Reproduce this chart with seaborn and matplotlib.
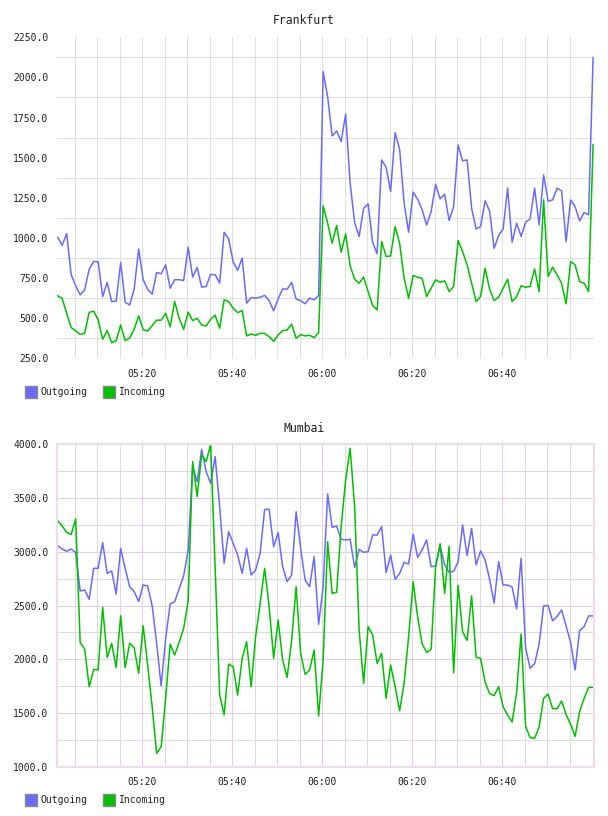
import matplotlib
matplotlib.use("Agg")
import numpy as np
import pandas as pd
import matplotlib.pyplot as plt
import matplotlib.dates as mdates
from matplotlib.lines import Line2D
from matplotlib.ticker import FixedLocator, FixedFormatter
import seaborn as sns

# ---------------- data ----------------
start_time = "2024-01-01 05:01:12"
n_points = 120

frankfurt_outgoing = [
    1005, 954, 1027, 771, 702, 646, 677, 806, 854, 852,
    635, 723, 604, 606, 848, 600, 583, 681, 931, 740,
    681, 650, 785, 777, 833, 687, 740, 740, 735, 942,
    756, 817, 694, 698, 773, 771, 719, 1035, 994, 850,
    798, 875, 594, 629, 625, 631, 642, 610, 546, 621,
    683, 681, 723, 619, 610, 590, 625, 615, 642, 2036,
    1880, 1635, 1666, 1600, 1770, 1341, 1096, 1009, 1185, 1212,
    973, 901, 1486, 1440, 1289, 1656, 1552, 1216, 1036, 1285,
    1241, 1175, 1081, 1164, 1334, 1243, 1272, 1108, 1195, 1579,
    1480, 1486, 1185, 1056, 1071, 1231, 1168, 936, 1015, 1056,
    1310, 973, 1092, 1009, 1098, 1119, 1310, 1081, 1393, 1229,
    1237, 1310, 1293, 977, 1237, 1195, 1106, 1158, 1144, 2125,
]
frankfurt_incoming = [
    640, 623, 531, 442, 421, 400, 406, 537, 544, 490,
    369, 423, 348, 360, 458, 360, 377, 431, 515, 429,
    421, 454, 488, 488, 531, 446, 604, 500, 431, 538,
    485, 500, 458, 452, 494, 519, 438, 615, 604, 562,
    535, 548, 390, 402, 394, 406, 406, 385, 356, 396,
    423, 427, 463, 375, 398, 390, 394, 379, 410, 1200,
    1092, 967, 1077, 911, 1025, 828, 743, 718, 756, 666,
    579, 552, 978, 884, 888, 1071, 967, 749, 625, 766,
    756, 749, 635, 687, 739, 724, 733, 666, 698, 984,
    915, 832, 718, 604, 635, 811, 681, 610, 631, 687,
    743, 604, 635, 702, 693, 698, 807, 666, 1237, 760,
    818, 770, 718, 590, 853, 832, 728, 718, 666, 1583,
]
mumbai_outgoing = [
    3057, 3026, 3004, 3026, 2992, 2635, 2644, 2557, 2846, 2846,
    3085, 2799, 2821, 2607, 3032, 2846, 2675, 2629, 2536, 2691,
    2681, 2498, 2148, 1751, 2194, 2514, 2536, 2654, 2775, 3016,
    3792, 3653, 3953, 3746, 3637, 3885, 3420, 2892, 3187, 3079,
    2970, 2799, 3032, 2784, 2830, 2986, 3395, 3395, 3048, 3178,
    2861, 2722, 2784, 3373, 3032, 2737, 2675, 2954, 2325, 2675,
    3538, 3227, 3240, 3116, 3110, 3116, 2855, 3023, 2995, 3001,
    3156, 3156, 3234, 2806, 2970, 2744, 2799, 2902, 2886, 3162,
    2948, 3017, 3110, 2861, 2868, 3055, 2880, 2809, 2818, 2905,
    3249, 2964, 3218, 2877, 3008, 2923, 2745, 2523, 2908, 2691,
    2691, 2672, 2469, 2939, 2106, 1915, 1958, 2140, 2495, 2501,
    2357, 2399, 2458, 2310, 2155, 1900, 2266, 2303, 2403, 2403,
]
mumbai_incoming = [
    3290, 3240, 3181, 3162, 3305, 2154, 2095, 1744, 1906, 1900,
    2483, 2017, 2148, 1924, 2405, 1921, 2148, 2107, 1869, 2312,
    1946, 1558, 1124, 1186, 1636, 2142, 2039, 2157, 2287, 2542,
    3839, 3513, 3901, 3839, 4000, 2850, 1667, 1481, 1955, 1931,
    1667, 2008, 2163, 1745, 2210, 2520, 2846, 2489, 2008, 2365,
    1993, 1831, 2179, 2675, 2055, 1859, 1900, 2086, 1471, 1993,
    3094, 2613, 2623, 3234, 3668, 3963, 3420, 2272, 1776, 2303,
    2225, 1962, 2055, 1636, 1946, 1745, 1521, 1776, 2210, 2722,
    2396, 2142, 2064, 2092, 2861, 3075, 2613, 3050, 1873, 2688,
    2256, 2175, 2588, 2018, 2008, 1787, 1680, 1661, 1745, 1558,
    1481, 1416, 1690, 2235, 1375, 1271, 1264, 1369, 1636, 1676,
    1540, 1540, 1611, 1485, 1395, 1282, 1512, 1635, 1738, 1738,
]

series_names = ["Outgoing", "Incoming"]
cities = ["Frankfurt", "Mumbai"]
frankfurt_yticks = [250, 500, 750, 1000, 1250, 1500, 1750, 2000, 2250]
mumbai_yticks = [1000, 1500, 2000, 2500, 3000, 3500, 4000]
xtick_labels = ["05:20", "05:40", "06:00", "06:20", "06:40"]

# ---------------- style ----------------
sns.set_theme(style="white")
plt.rcParams["font.family"] = ["DejaVu Sans Mono", "DejaVu Sans"]
palette = {"Outgoing": "#6a6aff", "Incoming": "#00c000"}
txt_color = "#222222"
grey_grid = "#e0e0e0"
purple_grid = "#e6cce6"

times = pd.date_range(start_time, periods=n_points, freq="min")
day = "2024-01-01 "
major_x = pd.to_datetime([day + t for t in xtick_labels])
minor_x = pd.date_range(day + "05:05", day + "06:55", freq="5min")

fig = plt.figure(figsize=(6.08, 8.16), dpi=100)
W, H = 608, 816


def axes_rect(left, top, right, bottom):
    return [left / W, 1 - bottom / H, (right - left) / W, (bottom - top) / H]


ax_f = fig.add_axes(axes_rect(56.7, 37.2, 594, 358.4))
ax_m = fig.add_axes(axes_rect(56.7, 444.3, 594, 766.7))

datasets = {
    "Frankfurt": (frankfurt_outgoing, frankfurt_incoming, frankfurt_yticks, ax_f),
    "Mumbai": (mumbai_outgoing, mumbai_incoming, mumbai_yticks, ax_m),
}

for city in cities:
    out_vals, in_vals, yticks, ax = datasets[city]
    df = pd.DataFrame({
        "time": list(times) * 2,
        "value": list(out_vals) + list(in_vals),
        "series": ["Outgoing"] * n_points + ["Incoming"] * n_points,
    })
    sns.lineplot(data=df, x="time", y="value", hue="series", hue_order=series_names,
                 palette=palette, ax=ax, legend=False, linewidth=1.1)
    ax.set_xlim(times[0] - pd.Timedelta(seconds=13), times[-1] + pd.Timedelta(seconds=12))
    ax.set_ylim(yticks[0], yticks[-1])
    ax.set_xlabel("")
    ax.set_ylabel("")

    ax.xaxis.set_major_locator(FixedLocator(mdates.date2num(major_x)))
    ax.xaxis.set_major_formatter(FixedFormatter(xtick_labels))
    ax.xaxis.set_minor_locator(FixedLocator(mdates.date2num(minor_x)))
    ax.yaxis.set_major_locator(FixedLocator(yticks))
    ax.set_yticklabels([f"{v:.1f}" for v in yticks])
    step = yticks[1] - yticks[0]
    minor_y = [v + step / 2 for v in yticks[:-1]]
    ax.yaxis.set_minor_locator(FixedLocator(minor_y))

    ax.tick_params(axis="both", which="both", length=0, labelsize=7, colors=txt_color)
    ax.tick_params(axis="y", pad=6)
    ax.tick_params(axis="x", pad=7.5)

    ax.set_axisbelow(True)
    if city == "Frankfurt":
        ax.grid(False)
        ax.grid(which="minor", axis="both", color=grey_grid, linewidth=0.75)
        ax.grid(which="major", axis="x", color=grey_grid, linewidth=0.75)
        for s in ax.spines.values():
            s.set_visible(False)
    else:
        ax.grid(False)
        ax.grid(which="minor", axis="both", color="#dcdcdc", linewidth=0.75)
        ax.grid(which="major", axis="both", color=purple_grid, linewidth=0.75)
        for s in ax.spines.values():
            s.set_visible(True)
            s.set_color("#ecdcec")
            s.set_linewidth(1.5)

# titles
fig.text(0.5, 1 - 20 / H, "Frankfurt", ha="center", va="center", fontsize=8.3, color=txt_color)
fig.text(0.5, 1 - 429 / H, "Mumbai", ha="center", va="center", fontsize=8.3, color=txt_color)

# legends
handles = [Line2D([0], [0], marker="s", linestyle="none", markersize=8.6,
                  markerfacecolor=palette[s], markeredgecolor="#888888", markeredgewidth=1.0)
           for s in series_names]
for ypix in (392, 800):
    fig.legend(handles=handles, labels=series_names, loc="center left",
               bbox_to_anchor=(26 / W, 1 - ypix / H), ncol=2, frameon=False,
               fontsize=7, handlelength=1.0, handletextpad=0.45, columnspacing=1.8,
               borderpad=0, borderaxespad=0, labelcolor=txt_color)

fig.savefig("out.png", dpi=100)
